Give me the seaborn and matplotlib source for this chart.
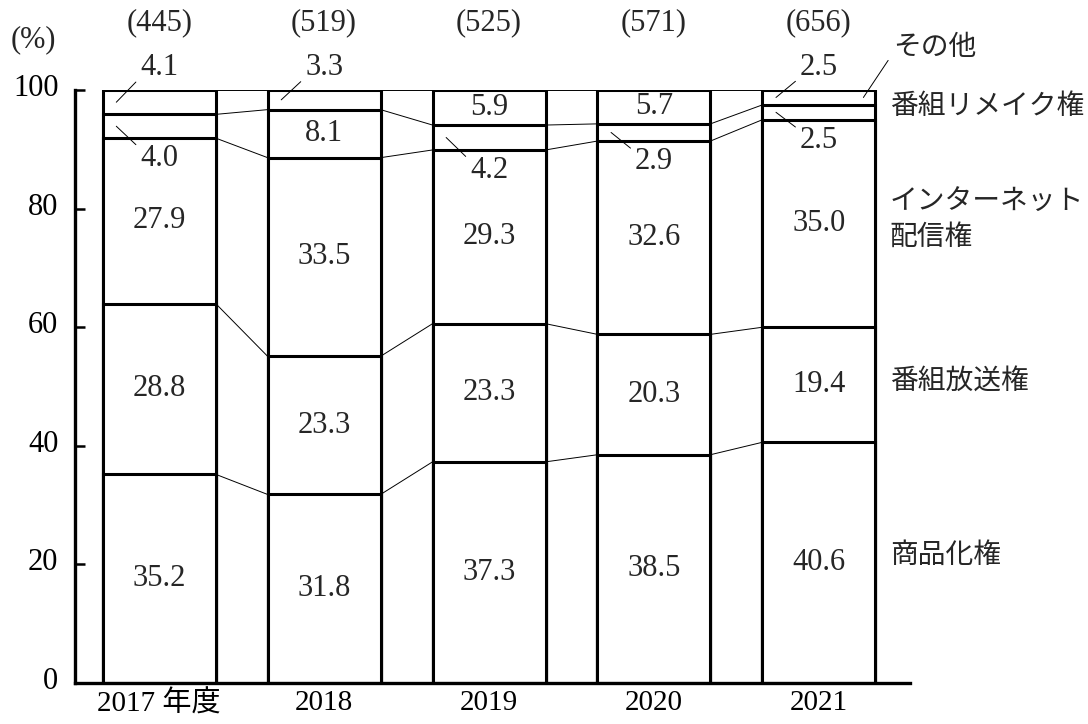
import numpy as np
import seaborn as sns
import matplotlib.pyplot as plt
import matplotlib.transforms as mtransforms

# Data (%)
years = ['2017 年度', '2018', '2019', '2020', '2021']
totals = ['(445)', '(519)', '(525)', '(571)', '(656)']
merch = [35.2, 31.8, 37.3, 38.5, 40.6]        # 商品化権
broadcast = [28.8, 23.3, 23.3, 20.3, 19.4]    # 番組放送権
internet = [27.9, 33.5, 29.3, 32.6, 35.0]     # インターネット配信権
remake = [4.0, 8.1, 4.2, 2.9, 2.5]            # 番組リメイク権
other = [4.1, 3.3, 5.9, 5.7, 2.5]             # その他

series_names = ['商品化権', '番組放送権', 'インターネット\n配信権', '番組リメイク権', 'その他']

sns.set_theme(style='white')
plt.rcParams['font.family'] = ['Liberation Serif', 'Noto Sans CJK JP']

layers = [merch, broadcast, internet, remake, other]
cum = np.cumsum(np.array(layers), axis=0)   # shape (layers, years)
bar_w = 0.685
num_fs = 22
jp_fs = 20

fig = plt.figure(figsize=(10.88, 7.24), dpi=100)
ax = fig.add_axes([0.069, 0.0566, 0.767, 0.819])

# stacked bars: tallest first, lower stacks drawn over it
for k in range(len(layers) - 1, -1, -1):
    sns.barplot(x=years, y=cum[k], color='white', edgecolor='black',
                linewidth=2.2, width=bar_w, saturation=1, errorbar=None, ax=ax)

# thin connector lines between neighbouring bars
for k in range(len(layers)):
    for i in range(len(years) - 1):
        ax.plot([i + bar_w / 2, i + 1 - bar_w / 2], [cum[k][i], cum[k][i + 1]],
                color='black', lw=0.7, zorder=1)

# small segments get an outside label with a leader line
# (layer, year): 'above' -> label over the bar, 'below' -> under the segment
small = {(4, 0): 'above', (3, 0): 'below', (4, 1): 'above',
         (3, 2): 'below', (3, 3): 'below', (4, 4): 'above', (3, 4): 'below'}

for k, vals in enumerate(layers):
    for i, v in enumerate(vals):
        mid = cum[k][i] - v / 2
        if (k, i) in small:
            if small[(k, i)] == 'above':
                ty, rel = 103.8, (0.0, 0.15)
            else:
                ty, rel = cum[k][i] - v - 3.5, (0.0, 0.85)
            ax.annotate(f'{v:.1f}', xy=(i - 0.26, mid), xytext=(i, ty),
                        fontsize=num_fs, ha='center', va='center',
                        arrowprops=dict(arrowstyle='-', lw=0.7, color='black',
                                        shrinkA=1, shrinkB=0, relpos=rel),
                        annotation_clip=False)
        else:
            ax.text(i, mid, f'{v:.1f}', ha='center', va='center', fontsize=num_fs)

# totals above bars
for i, t in enumerate(totals):
    ax.text(i, 111.3, t, ha='center', va='center', fontsize=num_fs, clip_on=False)

# series names on the right
label_pos = [(4.43, 21.4), (4.43, 50.8), (4.43, 77.9), (4.43, 97.1), (4.45, 107.1)]
for name, (x, y) in zip(series_names, label_pos):
    ax.text(x, y, name, ha='left', va='center', fontsize=jp_fs,
            linespacing=1.45, clip_on=False)
ax.annotate('', xy=(4 + 0.27, cum[4][4] - other[4] / 2), xytext=(4.42, 105.0),
            arrowprops=dict(arrowstyle='-', lw=0.7, color='black',
                            shrinkA=0, shrinkB=0), annotation_clip=False)

fig.text(0.031, 0.945, '(%)', fontsize=num_fs, ha='center', va='center')

ax.set_xlim(-0.51, 4.55)
ax.set_ylim(0, 100)
ax.set_yticks([0, 20, 40, 60, 80, 100])
ax.tick_params(axis='y', direction='in', length=7, width=1.8, left=True,
               pad=12, labelsize=num_fs, colors='black')
ax.tick_params(axis='x', length=0, pad=5, labelsize=21, colors='black')
ax.set_xlabel('')
ax.set_ylabel('')
sns.despine(ax=ax)
for s in ['left', 'bottom']:
    ax.spines[s].set_color('black')
    ax.spines[s].set_linewidth(2.4)

# y labels sit a little above their ticks
shift = mtransforms.ScaledTranslation(0, 5 / 100, fig.dpi_scale_trans)
for lab in ax.get_yticklabels():
    lab.set_transform(lab.get_transform() + shift)

fig.savefig('out.png', dpi=100)
